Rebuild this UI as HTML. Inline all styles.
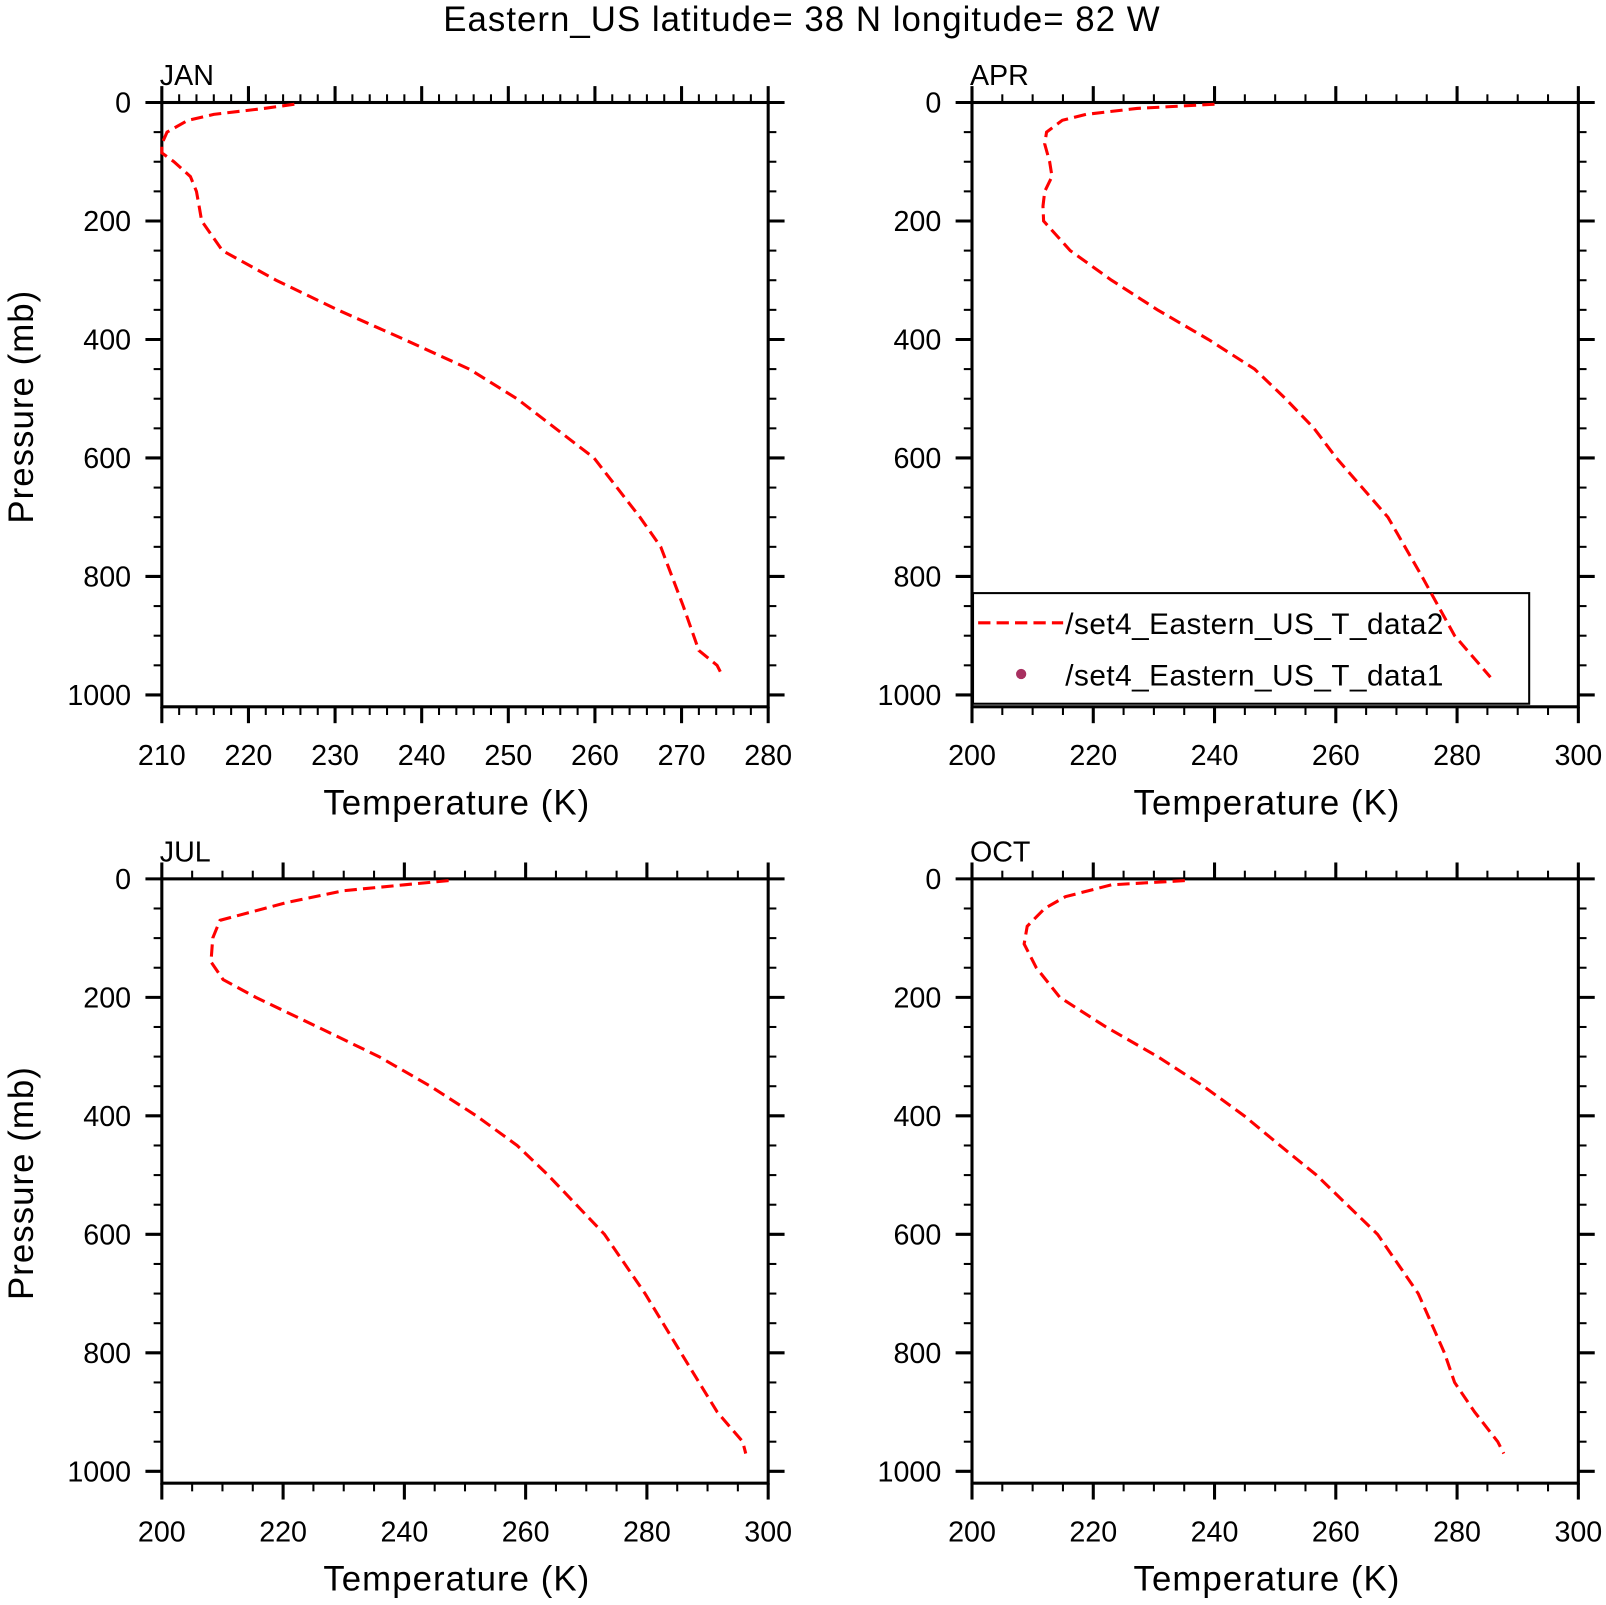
<!DOCTYPE html>
<html><head><meta charset="utf-8"><style>
html,body{margin:0;padding:0;background:#fff;}
svg text{font-family:"Liberation Sans","DejaVu Sans",sans-serif;fill:#000;}
</style></head><body>
<svg id="chart" width="1606" height="1600" viewBox="0 0 1568 1562" xmlns="http://www.w3.org/2000/svg">
<rect width="1568" height="1562" fill="#fff"/>
<text x="783" y="30" font-size="34" text-anchor="middle" letter-spacing="1">Eastern_US  latitude= 38 N longitude= 82 W</text>
</svg>
<script>
const pressJAN=[3,10,20,30,50,70,85,100,125,150,175,200,250,300,350,400,450,500,600,700,750,850,925,950,970];
const tempJAN=[225.3,221.8,216,213,210.6,210,210,211.4,213.3,214,214.3,214.6,217,223.2,230.3,238,245.5,251,259.9,265.2,267.6,270.2,272,274.1,274.8];
const pressAPR=[3,10,20,30,50,70,100,125,150,175,200,250,300,350,400,450,500,550,600,700,800,900,970];
const tempAPR=[240,227.2,218.8,214.9,212.3,212,212.8,213.2,212,211.7,211.8,216.2,223,230.6,239,246.6,251.7,256.4,260.1,268.6,274.2,279.6,285.5];
const pressJUL=[3,10,20,40,70,100,140,170,200,250,300,350,400,450,500,600,700,800,900,950,970];
const tempJUL=[247.3,240,229.9,220.6,209.6,208.4,208.1,210.1,215.5,225.7,235.8,244.3,251.9,258.6,263.7,273,279.7,285.6,291.6,295.8,296.3];
const pressOCT=[3,10,30,50,80,110,150,200,250,300,350,400,450,500,600,700,800,850,900,950,970];
const tempOCT=[235.1,223,215.4,212,209.1,208.6,210.6,214.5,222.1,230.6,238.2,244.9,250.8,256.8,266.9,273.6,277.9,279.6,282.9,286.7,287.7];
const xTicksJAN=[210,220,230,240,250,260,270,280];
const xTicksOther=[200,220,240,260,280,300];
const yTicks=[0,200,400,600,800,1000];
const legendLabels=["/set4_Eastern_US_T_data2","/set4_Eastern_US_T_data1"];

const NS="http://www.w3.org/2000/svg";
const svg=document.getElementById('chart');
function mk(tag,attrs,parent){const e=document.createElementNS(NS,tag);for(const k in attrs)e.setAttribute(k,attrs[k]);(parent||svg).appendChild(e);return e;}

const panels=[
 {name:'jan',label:'JAN',x0:158,y0:100,xmin:210,xmax:280,ticks:xTicksJAN,minor:2,P:pressJAN,T:tempJAN,ylab:true},
 {name:'apr',label:'APR',x0:949,y0:100,xmin:200,xmax:300,ticks:xTicksOther,minor:5,P:pressAPR,T:tempAPR,ylab:false,legend:true},
 {name:'jul',label:'JUL',x0:158,y0:858,xmin:200,xmax:300,ticks:xTicksOther,minor:5,P:pressJUL,T:tempJUL,ylab:true},
 {name:'oct',label:'OCT',x0:949,y0:858,xmin:200,xmax:300,ticks:xTicksOther,minor:5,P:pressOCT,T:tempOCT,ylab:false}
];
const W=592,H=590,PMAX=1020;
panels.forEach(p=>{
 const g=mk('g',{});
 
 
 const xs=t=>p.x0+(t-p.xmin)/(p.xmax-p.xmin)*W;
 const ys=v=>p.y0+v/PMAX*H;
 const x1=p.x0+W,y1=p.y0+H;
 // ticks x
 for(let t=p.xmin;t<=p.xmax+1e-9;t+=p.minor){
  const major=p.ticks.some(v=>Math.abs(v-t)<1e-6);
  const L=major?16:8;
  mk('line',{x1:xs(t),x2:xs(t),y1:p.y0,y2:p.y0-L,stroke:'#000','stroke-width':major?3:2},g);
  mk('line',{x1:xs(t),x2:xs(t),y1:y1,y2:y1+L,stroke:'#000','stroke-width':major?3:2},g);
 }
 for(let v=0;v<=1000;v+=50){
  const major=v%200===0;const L=major?16:8;
  mk('line',{x1:p.x0,x2:p.x0-L,y1:ys(v),y2:ys(v),stroke:'#000','stroke-width':major?3:2},g);
  mk('line',{x1:x1,x2:x1+L,y1:ys(v),y2:ys(v),stroke:'#000','stroke-width':major?3:2},g);
 }
 const fr=mk('rect',{x:p.x0,y:p.y0,width:W,height:H,fill:'none',stroke:'#000','stroke-width':3},g);
 
 
 p.ticks.forEach(t=>{
  const e=mk('text',{x:xs(t),y:y1+57,'font-size':28,'text-anchor':'middle'},g);
  
  
  e.textContent=t;
 });
 yTicks.forEach(v=>{
  const e=mk('text',{x:p.x0-30,y:ys(v)+10,'font-size':28,'text-anchor':'end'},g);
  
  
  e.textContent=v;
 });
 const xt=mk('text',{x:p.x0+W/2-8,y:y1+105,'font-size':34,'text-anchor':'middle','letter-spacing':1},g);
 
 
 xt.textContent='Temperature  (K)';
 if(p.ylab){
  const yt=mk('text',{x:0,y:0,'font-size':34,'text-anchor':'middle','letter-spacing':1,transform:`translate(32,${p.y0+297}) rotate(-90)`},g);
  
  
  yt.textContent='Pressure  (mb)';
 }
 const pl=mk('text',{x:p.x0-2,y:p.y0-17,'font-size':28},g);
 
 
 pl.textContent=p.label;
 if(p.legend){
  const lg=mk('g',{},g);
  
  
  mk('rect',{x:p.x0+1,y:579,width:543,height:108,fill:'none',stroke:'#000','stroke-width':2},lg);
  mk('line',{x1:955,x2:1038,y1:608,y2:608,stroke:'#f00','stroke-width':3,'stroke-dasharray':'12 6'},lg);
  const t1=mk('text',{x:1040,y:619,'font-size':29,'letter-spacing':0.5},lg);
  
  
  t1.textContent=legendLabels[0];
  mk('circle',{cx:997,cy:658,r:5,fill:'#a83060'},lg);
  const t2=mk('text',{x:1040,y:669,'font-size':29,'letter-spacing':0.5},lg);
  
  
  t2.textContent=legendLabels[1];
 }
 const d=p.P.map((v,i)=>(i?'L':'M')+xs(p.T[i]).toFixed(1)+' '+ys(v).toFixed(1)).join(' ');
 const ln=mk('path',{d:d,fill:'none',stroke:'#f00','stroke-width':3,'stroke-dasharray':'12 6'},g);
 
 
});
</script>
</body></html>
